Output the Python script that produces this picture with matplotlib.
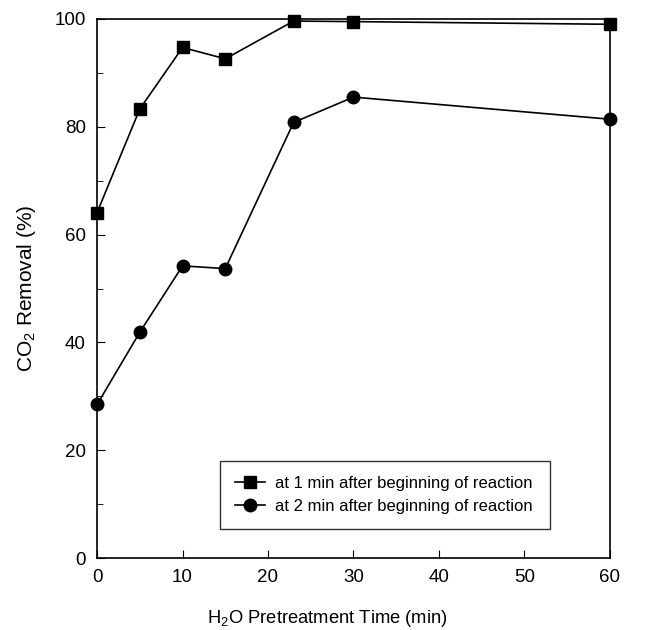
import matplotlib
matplotlib.use("Agg")
import matplotlib.pyplot as plt
from matplotlib.ticker import MultipleLocator

plt.rcParams['font.family'] = ['Liberation Sans', 'DejaVu Sans']
plt.rcParams['mathtext.fontset'] = 'custom'
plt.rcParams['mathtext.rm'] = 'Liberation Sans'

time_min = [0, 5, 10, 15, 23, 30, 60]
removal_1min = [64.1, 83.3, 94.7, 92.6, 99.6, 99.5, 99.0]
removal_2min = [28.5, 41.9, 54.2, 53.7, 80.8, 85.5, 81.4]
labels = ["at 1 min after beginning of reaction", "at 2 min after beginning of reaction"]

fig = plt.figure(figsize=(6.65, 6.30), dpi=100)
ax = fig.add_axes([0.146, 0.114, 0.771, 0.856])

ax.plot(time_min, removal_1min, color='black', marker='s', markersize=8, linewidth=1.2,
        label=labels[0], clip_on=False, zorder=3)
ax.plot(time_min, removal_2min, color='black', marker='o', markersize=9, linewidth=1.2,
        label=labels[1], clip_on=False, zorder=3)

ax.set_xlim(0, 60)
ax.set_ylim(0, 100)
ax.xaxis.set_major_locator(MultipleLocator(10))
ax.yaxis.set_major_locator(MultipleLocator(20))
ax.yaxis.set_minor_locator(MultipleLocator(10))
ax.tick_params(which='both', direction='in', labelsize=13.5, top=False, right=False)
ax.tick_params(which='major', length=6, pad=8)
ax.tick_params(which='minor', length=4)
for s in ax.spines.values():
    s.set_linewidth(1.2)

ax.set_xlabel(r"H$_\mathrm{2}$O Pretreatment Time (min)", fontsize=13.2)
ax.xaxis.set_label_coords(0.448, -0.092)
ax.set_ylabel(r"CO$_\mathrm{2}$ Removal (%)", fontsize=15, labelpad=12)

leg = ax.legend(loc='lower left', bbox_to_anchor=(0.24, 0.054, 0.643, 0.133), mode='expand',
                fontsize=12, frameon=True, fancybox=False, edgecolor='black',
                borderaxespad=0, handlelength=1.8, handletextpad=0.6, borderpad=0.9,
                labelspacing=0.5)
leg.get_frame().set_linewidth(1.0)

fig.savefig("out.png", dpi=100)
